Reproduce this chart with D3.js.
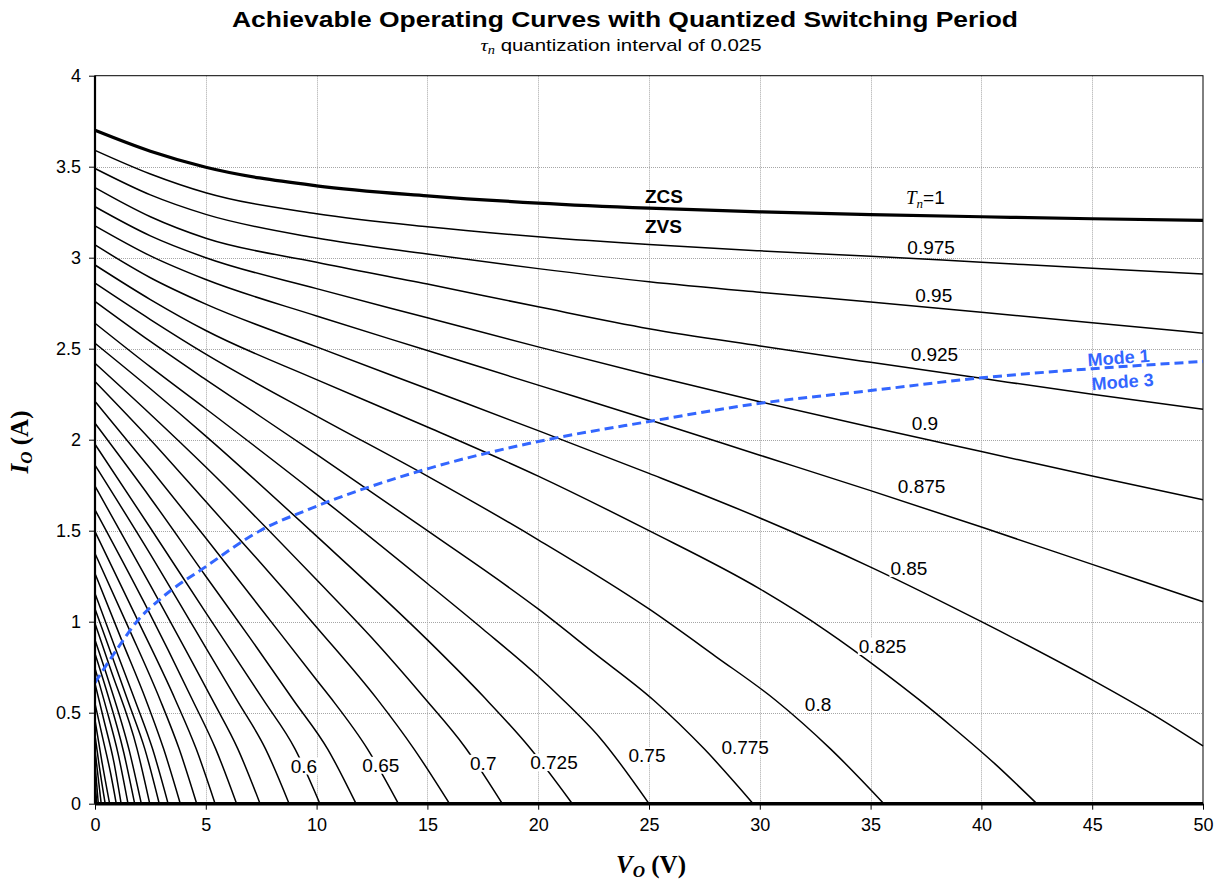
<!DOCTYPE html>
<html>
<head>
<meta charset="utf-8">
<script src="https://cdn.jsdelivr.net/npm/d3@7"></script>
<style>
  body { margin: 0; background: #ffffff; }
  svg { display: block; }
  text { font-family: "Liberation Sans", Arial, sans-serif; }
</style>
</head>
<body>
<svg id="chart" width="1220" height="880"></svg>
<script>
// Normalised switching period of each operating curve (top curve is Tn = 1)
const tnValues = [1, 0.975, 0.95, 0.925, 0.9, 0.875, 0.85, 0.825, 0.8, 0.775, 0.75, 0.725,
  0.7, 0.675, 0.65, 0.625, 0.6, 0.575, 0.55, 0.525, 0.5, 0.475, 0.45, 0.425, 0.4,
  0.375, 0.35, 0.325, 0.3, 0.275, 0.25, 0.225, 0.2, 0.175, 0.15, 0.125, 0.1];

// [Vo (V), Io (A)] points along each curve, same order as tnValues
const curvePoints = [
  [[0,3.70],[2.5,3.585],[5,3.497],[10,3.395],[15,3.34],[20,3.30],[25,3.272],[30,3.252],[35,3.237],[40,3.225],[45,3.214],[50,3.205]],
  [[0,3.59],[2.5,3.46],[5,3.357],[10,3.242],[15,3.17],[20,3.115],[25,3.072],[30,3.038],[35,3.008],[40,2.975],[45,2.942],[50,2.91]],
  [[0,3.49],[2.5,3.345],[5,3.238],[10,3.108],[15,3.02],[20,2.94],[25,2.868],[30,2.81],[35,2.757],[40,2.70],[45,2.643],[50,2.585]],
  [[0,3.385],[2.5,3.225],[5,3.107],[10,2.975],[15,2.855],[20,2.73],[25,2.61],[30,2.515],[35,2.425],[40,2.337],[45,2.25],[50,2.167]],
  [[0,3.28],[2.5,3.12],[5,3.0],[10,2.83],[15,2.67],[20,2.51],[25,2.355],[30,2.209],[35,2.07],[40,1.935],[45,1.80],[50,1.67]],
  [[0,3.175],[2.5,3.01],[5,2.88],[10,2.68],[15,2.49],[20,2.30],[25,2.11],[30,1.915],[35,1.72],[40,1.52],[45,1.315],[50,1.11]],
  [[0,3.07],[2.5,2.89],[5,2.745],[10,2.51],[15,2.28],[20,2.05],[25,1.815],[30,1.57],[35,1.30],[40,1.0],[45,0.68],[47.6,0.5],[50,0.317]],
  [[0,2.96],[2.5,2.77],[5,2.60],[10,2.33],[15,2.07],[20,1.80],[25,1.50],[30,1.18],[33,0.95],[35.5,0.73],[37.2,0.57],[38.7,0.42],[40.6,0.22],[42.5,0]],
  [[0,2.86],[2.5,2.66],[5,2.47],[10,2.13],[15,1.80],[20,1.45],[25,1.07],[28,0.81],[30.7,0.57],[33.2,0.3],[35.6,0]],
  [[0,2.76],[2.5,2.54],[5,2.33],[10,1.92],[15,1.50],[20,1.07],[22.5,0.83],[25.2,0.57],[27.5,0.3],[29.7,0]],
  [[0,2.64],[2.5,2.40],[5,2.17],[10,1.70],[15,1.21],[17.5,0.96],[20,0.70],[21,0.585],[22.8,0.36],[25,0]],
  [[0,2.53],[2.5,2.28],[5,2.02],[10,1.47],[15,0.90],[17.52,0.59],[19.6,0.31],[21.54,0]],
  [[0,2.42],[2.5,2.14],[5,1.85],[10,1.23],[12.5,0.91],[14.8,0.59],[16.7,0.31],[18.38,0]],
  [[0,2.32],[2.5,2.0],[5,1.66],[7.5,1.32],[10,0.97],[12.7,0.58],[14.4,0.3],[16,0]],
  [[0,2.21],[2.5,1.84],[5,1.46],[7.5,1.07],[10,0.68],[10.68,0.575],[12.3,0.3],[13.69,0]],
  [[0,2.09],[2.5,1.68],[5,1.25],[7,0.91],[8.95,0.57],[10.5,0.3],[11.78,0]],
  [[0,1.975],[2.5,1.515],[5,1.05],[7.6,0.57],[9.03,0.3],[10.15,0]],
  [[0,1.86],[2.5,1.37],[4.5,0.96],[6.4,0.57],[7.7,0.3],[8.76,0]],
  [[0,1.745],[2.5,1.2],[5.3,0.57],[6.45,0.3],[7.45,0]],
  [[0,1.615],[2.2,1.11],[4.4,0.57],[5.45,0.3],[6.39,0]],
  [[0,1.495],[1.8,1.04],[3.63,0.57],[4.57,0.3],[5.42,0]],
  [[0,1.375],[1.5,0.97],[2.94,0.57],[3.8,0.3],[4.59,0]],
  [[0,1.265],[1.2,0.9],[2.3,0.57],[3.1,0.3],[3.85,0]],
  [[0,1.155],[0.9,0.86],[1.8,0.57],[2.6,0.3],[3.3,0]],
  [[0,1.07],[0.8,0.8],[1.5,0.56],[2.25,0.3],[2.9,0]],
  [[0,0.99],[0.7,0.74],[1.9,0.3],[2.47,0]],
  [[0,0.90],[0.6,0.68],[1.55,0.29],[2.09,0]],
  [[0,0.825],[0.5,0.63],[1.3,0.28],[1.79,0]],
  [[0,0.745],[0.45,0.55],[1.05,0.27],[1.49,0]],
  [[0,0.66],[0.4,0.46],[0.85,0.23],[1.18,0]],
  [[0,0.55],[0.35,0.36],[0.7,0.17],[0.96,0]],
  [[0,0.46],[0.3,0.24],[0.66,0]],
  [[0,0.375],[0.2,0.2],[0.46,0]],
  [[0,0.295],[0.28,0]],
  [[0,0.22],[0.15,0]],
  [[0,0.13],[0.08,0]],
  [[0,0.06],[0.04,0]]
];

// Mode 1 / Mode 3 boundary
const modeBoundary = [[0,0.665],[1,0.85],[1.88,1.0],[3,1.13],[5.04,1.306],[7.45,1.5],[9.7,1.62],
  [15,1.84],[20,1.99],[25,2.10],[30,2.20],[35,2.27],[40,2.34],[45,2.39],[50,2.43]];

const xTicks = [0, 5, 10, 15, 20, 25, 30, 35, 40, 45, 50];
const yTicks = [0, 0.5, 1, 1.5, 2, 2.5, 3, 3.5, 4];
const yTickText = ["0", "0.5", "1", "1.5", "2", "2.5", "3", "3.5", "4"];

// Curve value labels: text and label centre [Vo, Io]
const curveLabelText = ["0.975", "0.95", "0.925", "0.9", "0.875", "0.85", "0.825", "0.8", "0.775", "0.75", "0.725", "0.7", "0.65", "0.6"];
const curveLabelAt = [[37.73,3.056],[37.85,2.792],[37.88,2.468],[37.45,2.089],[37.3,1.743],[36.73,1.292],[35.54,0.864],
  [32.63,0.545],[29.34,0.309],[24.91,0.265],[20.71,0.226],[17.52,0.222],[12.9,0.211],[9.43,0.207]];

const svg = d3.select("#chart");
const x = d3.scaleLinear().domain([0, 50]).range([95, 1203]);
const y = d3.scaleLinear().domain([0, 4]).range([803.7, 75.7]);

// Gridlines
const grid = svg.append("g").attr("stroke", "#a6a6a6").attr("stroke-width", 1).attr("stroke-dasharray", "1,1");
grid.selectAll("line.v").data(xTicks.filter(d => d > 0 && d < 50)).join("line")
  .attr("x1", d => Math.round(x(d)) + 0.5).attr("x2", d => Math.round(x(d)) + 0.5)
  .attr("y1", y(4)).attr("y2", y(0));
grid.selectAll("line.h").data(yTicks.filter(d => d > 0 && d < 4)).join("line")
  .attr("y1", d => Math.round(y(d)) + 0.5).attr("y2", d => Math.round(y(d)) + 0.5)
  .attr("x1", x(0)).attr("x2", x(50));

// Plot frame
svg.append("rect").attr("x", x(0)).attr("y", y(4)).attr("width", x(50) - x(0)).attr("height", y(0) - y(4))
  .attr("fill", "none").attr("stroke", "#000").attr("stroke-width", 1);

// Axes
const xAxis = svg.append("g").attr("transform", `translate(0,${y(0)})`)
  .call(d3.axisBottom(x).tickValues(xTicks).tickSize(6).tickPadding(9).tickFormat(d3.format("d")));
const yAxis = svg.append("g").attr("transform", `translate(${x(0)},0)`)
  .call(d3.axisLeft(y).tickValues(yTicks).tickSize(6).tickPadding(8).tickFormat((d, i) => yTickText[i]));
[xAxis, yAxis].forEach(g => {
  g.select(".domain").remove();
  g.selectAll(".tick line").attr("stroke", "#000").attr("stroke-width", 1);
  g.selectAll(".tick text").attr("fill", "#000").style("font-size", "18px")
    .style("font-family", "'Liberation Sans', Arial, sans-serif");
});

// Operating curves
const line = d3.line().x(d => x(d[0])).y(d => y(d[1])).curve(d3.curveMonotoneX);
const plot = svg.append("g");
plot.selectAll("path.curve").data(curvePoints).join("path")
  .attr("class", "curve")
  .attr("d", line)
  .attr("fill", "none")
  .attr("stroke", "#000")
  .attr("stroke-width", (d, i) => tnValues[i] === 1 ? 3.2 : 1.5);

// Axis lines drawn over the curves
svg.append("line").attr("x1", x(0)).attr("x2", x(50)).attr("y1", y(0)).attr("y2", y(0))
  .attr("stroke", "#000").attr("stroke-width", 3.5);
svg.append("line").attr("x1", x(0)).attr("x2", x(0)).attr("y1", y(4)).attr("y2", y(0))
  .attr("stroke", "#000").attr("stroke-width", 2.2);

// Mode boundary
plot.append("path").datum(modeBoundary)
  .attr("d", d3.line().x(d => x(d[0])).y(d => y(d[1])).curve(d3.curveMonotoneX))
  .attr("fill", "none").attr("stroke", "#3366ff").attr("stroke-width", 3)
  .attr("stroke-dasharray", "9,5");

// Curve value labels on white boxes
const labels = svg.append("g").style("font-size", "19px");
curveLabelText.forEach((t, i) => {
  const [v, io] = curveLabelAt[i];
  const g = labels.append("g");
  const txt = g.append("text").attr("x", x(v)).attr("y", y(io)).attr("text-anchor", "middle")
    .attr("dominant-baseline", "central").text(t);
  const b = txt.node().getBBox();
  g.insert("rect", "text").attr("x", b.x - 1).attr("y", b.y + 2).attr("width", b.width + 2).attr("height", b.height - 4)
    .attr("fill", "#fff");
});

// ZCS / ZVS region labels and Tn = 1
svg.append("text").attr("x", 645).attr("y", 203).style("font-size", "19px").style("font-weight", "bold").text("ZCS");
svg.append("text").attr("x", 645).attr("y", 233).style("font-size", "19px").style("font-weight", "bold").text("ZVS");
const serif = "'Liberation Serif', 'Times New Roman', serif";
const tn1 = svg.append("text").attr("x", 906).attr("y", 204).style("font-size", "19px");
tn1.append("tspan").style("font-family", serif).style("font-style", "italic").text("T");
tn1.append("tspan").style("font-family", serif).style("font-style", "italic")
  .style("font-size", "13px").attr("dy", 4).text("n");
tn1.append("tspan").attr("dy", -4).text("=1");

// Mode labels
const modeColor = "#3366ff";
svg.append("text").attr("transform", "translate(1119,364) rotate(-4)").attr("text-anchor", "middle")
  .style("font-size", "18px").style("font-weight", "bold").attr("fill", modeColor).text("Mode 1");
svg.append("text").attr("transform", "translate(1123,388) rotate(-4)").attr("text-anchor", "middle")
  .style("font-size", "18px").style("font-weight", "bold").attr("fill", modeColor).text("Mode 3");

// Title and subtitle
svg.append("text").attr("x", 625).attr("y", 27).attr("text-anchor", "middle")
  .style("font-size", "22px").style("font-weight", "bold")
  .attr("textLength", 786).attr("lengthAdjust", "spacingAndGlyphs")
  .text("Achievable Operating Curves with Quantized Switching Period");
const sub = svg.append("text").attr("x", 621).attr("y", 51).attr("text-anchor", "middle").style("font-size", "17px")
  .attr("textLength", 281).attr("lengthAdjust", "spacingAndGlyphs");
sub.append("tspan").style("font-family", serif).style("font-style", "italic").text("\u03c4");
sub.append("tspan").style("font-family", serif).style("font-style", "italic")
  .style("font-size", "12px").attr("dy", 3).text("n");
sub.append("tspan").attr("dy", -3).text(" quantization interval of 0.025");

// Axis titles
const xt = svg.append("text").attr("x", 651).attr("y", 873).attr("text-anchor", "middle")
  .style("font-family", serif).style("font-size", "25px").style("font-weight", "bold");
xt.append("tspan").style("font-style", "italic").text("V");
xt.append("tspan").style("font-style", "italic").style("font-size", "17px").attr("dy", 4).text("O");
xt.append("tspan").attr("dy", -4).text(" (V)");
const yt = svg.append("text").attr("transform", "translate(28,442) rotate(-90)").attr("text-anchor", "middle")
  .style("font-family", serif).style("font-size", "25px").style("font-weight", "bold");
yt.append("tspan").style("font-style", "italic").text("I");
yt.append("tspan").style("font-style", "italic").style("font-size", "17px").attr("dy", 4).text("O");
yt.append("tspan").attr("dy", -4).text(" (A)");
</script>
</body>
</html>
